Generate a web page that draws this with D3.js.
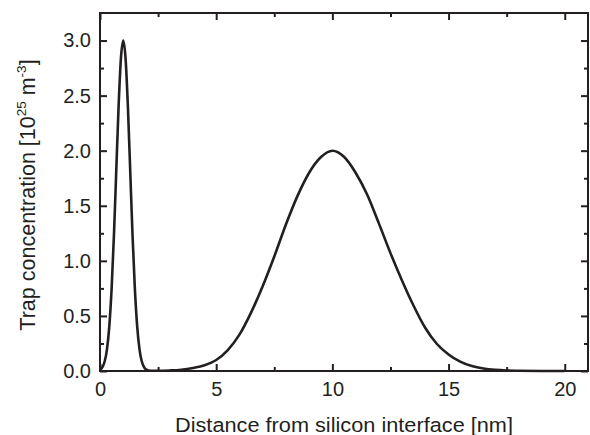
<!DOCTYPE html>
<html>
<head>
<meta charset="utf-8">
<script src="https://cdn.jsdelivr.net/npm/d3@7"></script>
<style>
  body { margin: 0; background: #fff; }
  text { font-family: "Liberation Sans", Arial, sans-serif; fill: #231f20; }
</style>
</head>
<body>
<div id="chart"></div>
<script>
// distance from silicon interface [nm]
const distance = [
  0, 0.1, 0.2, 0.3, 0.4, 0.5, 0.6, 0.7, 0.8, 0.9,
  1.0, 1.1, 1.2, 1.3, 1.4, 1.5, 1.6, 1.7, 1.8, 1.9,
  2.0, 2.1, 2.2, 2.5, 3.0, 3.5, 4.0, 4.5, 5.0, 5.5,
  6.0, 6.5, 7.0, 7.5, 8.0, 8.5, 9.0, 9.5, 10.0, 10.5,
  11.0, 11.5, 12.0, 12.5, 13.0, 13.5, 14.0, 14.5, 15.0, 15.5,
  16.0, 16.5, 17.0, 17.5, 18.0, 19.0, 20.0
];
// trap concentration [10^25 m^-3]
const concentration = [
  0.012, 0.033, 0.086, 0.197, 0.406, 0.748, 1.233, 1.820, 2.402, 2.838,
  3.000, 2.838, 2.402, 1.820, 1.233, 0.748, 0.406, 0.197, 0.086, 0.033,
  0.012, 0.004, 0.002, 0.002, 0.005, 0.012, 0.028, 0.053, 0.100, 0.190,
  0.330, 0.530, 0.770, 1.040, 1.330, 1.590, 1.800, 1.940, 2.000, 1.945,
  1.800, 1.600, 1.340, 1.070, 0.820, 0.590, 0.390, 0.245, 0.150, 0.085,
  0.045, 0.022, 0.010, 0.004, 0.002, 0.000, 0.000
];
const xTicks = [0, 5, 10, 15, 20];
const xMinor = [2.5, 7.5, 12.5, 17.5];
const yTicks = [0, 0.5, 1.0, 1.5, 2.0, 2.5, 3.0];
const yMinor = [0.25, 0.75, 1.25, 1.75, 2.25, 2.75];

const width = 590, height = 435;
const margin = { top: 13, right: 2, bottom: 64, left: 100 };
const w = width - margin.left - margin.right,
      h = height - margin.top - margin.bottom;
const ink = '#231f20';

const svg = d3.select('#chart').append('svg')
  .attr('width', width)
  .attr('height', height);

const g = svg.append('g')
  .attr('transform', `translate(${margin.left},${margin.top})`);

const x = d3.scaleLinear([0, 21], [0, w]);
const y = d3.scaleLinear([0, 3.25], [h, 0]);

// axes with inward ticks on all four sides
function styleAxis(sel) {
  sel.select('.domain').remove();
  sel.selectAll('line').attr('stroke', ink).attr('stroke-width', 2);
  sel.selectAll('text').attr('font-size', 20).style('fill', ink);
}

g.append('g').attr('transform', `translate(0,${h})`)
  .call(d3.axisBottom(x).tickValues(xTicks).tickSize(-7).tickPadding(11).tickFormat(d3.format('d')))
  .call(styleAxis);
g.append('g').attr('transform', `translate(0,${h})`)
  .call(d3.axisBottom(x).tickValues(xMinor).tickSize(-4).tickFormat(''))
  .call(styleAxis);
g.append('g')
  .call(d3.axisTop(x).tickValues(xTicks).tickSize(-7).tickFormat(''))
  .call(styleAxis);
g.append('g')
  .call(d3.axisTop(x).tickValues(xMinor).tickSize(-4).tickFormat(''))
  .call(styleAxis);

g.append('g')
  .call(d3.axisLeft(y).tickValues(yTicks).tickSize(-7).tickPadding(9).tickFormat(d3.format('.1f')))
  .call(styleAxis);
g.append('g')
  .call(d3.axisLeft(y).tickValues(yMinor).tickSize(-4).tickFormat(''))
  .call(styleAxis);
g.append('g').attr('transform', `translate(${w},0)`)
  .call(d3.axisRight(y).tickValues(yTicks).tickSize(-7).tickFormat(''))
  .call(styleAxis);
g.append('g').attr('transform', `translate(${w},0)`)
  .call(d3.axisRight(y).tickValues(yMinor).tickSize(-4).tickFormat(''))
  .call(styleAxis);

// frame
g.append('rect')
  .attr('width', w).attr('height', h)
  .attr('fill', 'none').attr('stroke', ink).attr('stroke-width', 2);

// the curve
const line = d3.line()
  .x((d, i) => x(distance[i]))
  .y(d => y(d))
  .curve(d3.curveMonotoneX);

g.append('path')
  .datum(concentration)
  .attr('d', line)
  .attr('fill', 'none')
  .attr('stroke', ink)
  .attr('stroke-width', 2.6)
  .attr('stroke-linejoin', 'round');

// axis titles
svg.append('text')
  .attr('x', margin.left + w / 2)
  .attr('y', 432)
  .attr('text-anchor', 'middle')
  .attr('font-size', 20.5)
  .attr('textLength', 338)
  .attr('lengthAdjust', 'spacingAndGlyphs')
  .text('Distance from silicon interface [nm]');

const yTitle = svg.append('text')
  .attr('transform', `translate(35,${margin.top + h / 2 + 3}) rotate(-90)`)
  .attr('text-anchor', 'middle')
  .attr('font-size', 21.5);
yTitle.append('tspan').text('Trap concentration [10');
yTitle.append('tspan').attr('dy', -9).attr('font-size', 13.5).text('25');
yTitle.append('tspan').attr('dy', 9).text(' m');
yTitle.append('tspan').attr('dy', -9).attr('font-size', 13.5).text('-3');
yTitle.append('tspan').attr('dy', 9).text(']');
</script>
</body>
</html>
